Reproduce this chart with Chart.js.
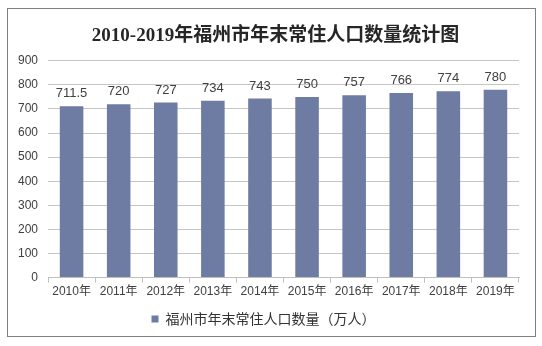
<!DOCTYPE html>
<html>
<head>
<meta charset="utf-8">
<script src="https://cdn.jsdelivr.net/npm/chart.js@4"></script>
<style>
  body { margin: 0; background: #fff; }
  #box {
    position: absolute; left: 7px; top: 8px;
    width: 529px; height: 329px;
    box-sizing: border-box; border: 1px solid #808080;
  }
</style>
</head>
<body>
<div id="box"><canvas id="popChart"></canvas></div>
<script>
const years = ['2010年', '2011年', '2012年', '2013年', '2014年', '2015年', '2016年', '2017年', '2018年', '2019年'];
const population = [711.5, 720, 727, 734, 743, 750, 757, 766, 774, 780];
const seriesName = '福州市年末常住人口数量（万人）';
const chartTitle = '2010-2019年福州市年末常住人口数量统计图';

// simple value labels above each bar
const barLabels = {
    id: 'barLabels',
    afterLayout(chart) {
        // the original title sits a bit right of the canvas centre
        if (chart.titleBlock) {
            chart.titleBlock.left += 12;
            chart.titleBlock.right += 12;
        }
    },
    afterDatasetsDraw(chart) {
        const ctx = chart.ctx;
        const meta = chart.getDatasetMeta(0);
        ctx.save();
        ctx.font = '13px "Liberation Sans", Arial, sans-serif';
        ctx.fillStyle = '#404040';
        ctx.textAlign = 'center';
        ctx.textBaseline = 'bottom';
        meta.data.forEach((bar, i) => {
            ctx.fillText(String(population[i]), bar.x, bar.y - 6);
        });
        ctx.restore();
    }
};

const ctx = document.getElementById('popChart').getContext('2d');
new Chart(ctx, {
    type: 'bar',
    data: {
        labels: years,
        datasets: [{
            label: seriesName,
            data: population,
            backgroundColor: '#6e7ba3',
            barPercentage: 0.5,
            categoryPercentage: 1.0
        }]
    },
    options: {
        responsive: true,
        maintainAspectRatio: false,
        animation: false,
        layout: { padding: { left: 0, right: 16, top: 11, bottom: 0 } },
        plugins: {
            title: {
                display: true,
                text: chartTitle,
                color: '#262626',
                font: { family: '"Liberation Serif", "Noto Sans CJK SC", serif', size: 19, weight: 'bold' },
                padding: { top: 5, bottom: 13 }
            },
            legend: {
                position: 'bottom',
                labels: {
                    boxWidth: 7,
                    boxHeight: 7,
                    color: '#333333',
                    padding: 11,
                    font: { family: '"Noto Sans CJK SC", sans-serif', size: 14 }
                }
            },
            tooltip: { enabled: false }
        },
        scales: {
            x: {
                grid: { display: true, drawOnChartArea: false, drawTicks: true, tickLength: 5, color: '#bfbfbf', offset: true },
                border: { display: true, color: '#bfbfbf' },
                ticks: {
                    color: '#404040',
                    padding: 2,
                    maxRotation: 0,
                    font: { family: '"Liberation Sans", "Noto Sans CJK SC", sans-serif', size: 12 }
                }
            },
            y: {
                min: 0,
                max: 900,
                grid: { color: '#c6c6c6', drawTicks: false },
                border: { display: false },
                ticks: {
                    stepSize: 100,
                    color: '#404040',
                    padding: 10,
                    font: { family: '"Liberation Sans", Arial, sans-serif', size: 12 }
                }
            }
        }
    },
    plugins: [barLabels]
});
</script>
</body>
</html>
